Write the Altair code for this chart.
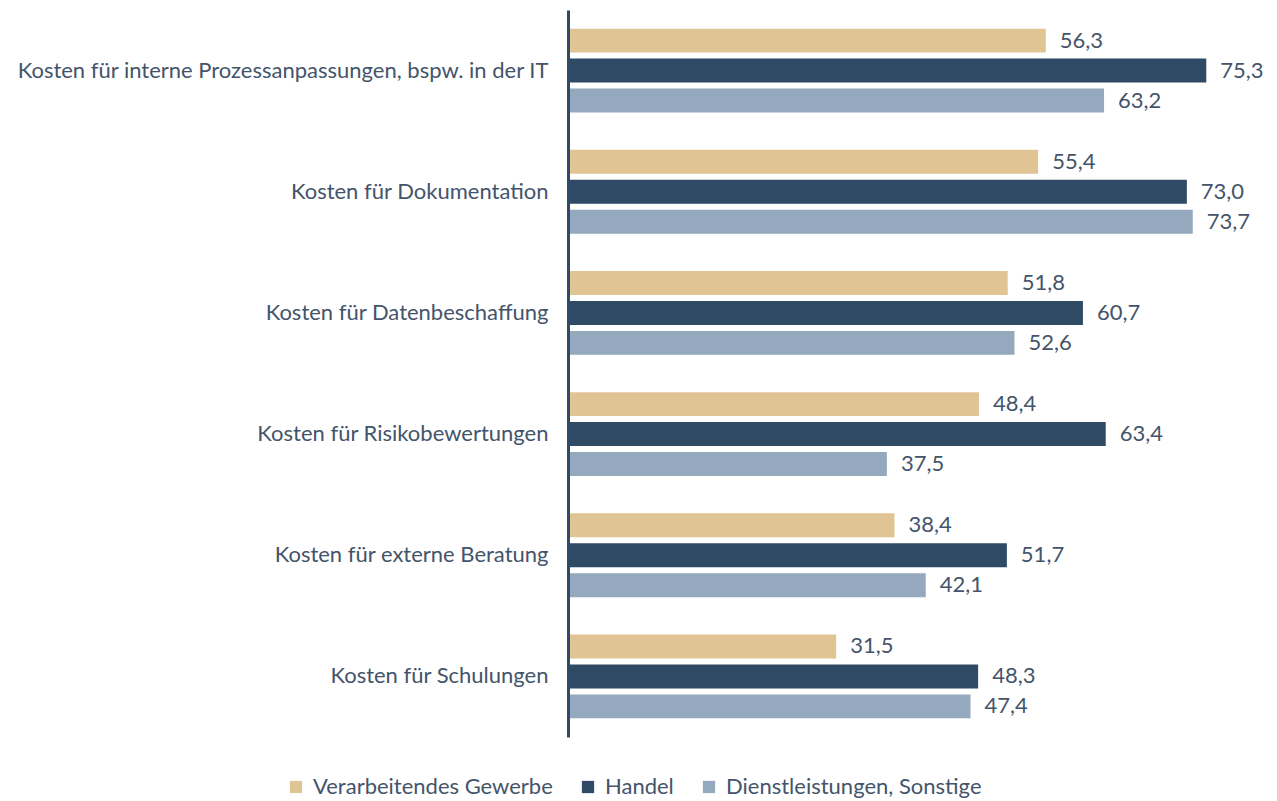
import altair as alt
import pandas as pd

categories = [
    "Kosten für interne Prozessanpassungen, bspw. in der IT",
    "Kosten für Dokumentation",
    "Kosten für Datenbeschaffung",
    "Kosten für Risikobewertungen",
    "Kosten für externe Beratung",
    "Kosten für Schulungen",
]
series = ["Verarbeitendes Gewerbe", "Handel", "Dienstleistungen, Sonstige"]
verarbeitendes = [56.3, 55.4, 51.8, 48.4, 38.4, 31.5]
handel = [75.3, 73.0, 60.7, 63.4, 51.7, 48.3]
dienst = [63.2, 73.7, 52.6, 37.5, 42.1, 47.4]
colors = ["#E0C494", "#2E4A64", "#94A9BD"]

rows = []
for s, vals in zip(series, [verarbeitendes, handel, dienst]):
    for c, v in zip(categories, vals):
        rows.append({"Kategorie": c, "Sektor": s, "Wert": v,
                     "Label": f"{v:.1f}".replace(".", ",")})
df = pd.DataFrame(rows)

FONT = "Lato"
TXT = "#44546A"
FS = 22

y = alt.Y("Kategorie:N", sort=categories,
          scale=alt.Scale(paddingInner=0.258, paddingOuter=0.129),
          axis=alt.Axis(title=None, ticks=False, labelPadding=20, domainWidth=3,
                        domainColor="#2E4A64", offset=2, labelFontSize=FS,
                        labelFont=FONT, labelColor=TXT, labelLimit=600))
yoff = alt.YOffset("Sektor:N", sort=series,
                   scale=alt.Scale(paddingInner=0.2, paddingOuter=0.1))
x = alt.X("Wert:Q", scale=alt.Scale(domain=[0, 80]), axis=None)

bars = alt.Chart(df).mark_bar().encode(
    x=x, y=y, yOffset=yoff,
    color=alt.Color("Sektor:N", sort=series,
                    scale=alt.Scale(domain=series, range=colors),
                    legend=alt.Legend(title=None, orient="none", direction="horizontal",
                                      legendX=-285, legendY=766, symbolType="square",
                                      symbolSize=150, symbolStrokeWidth=0,
                                      labelFont=FONT, labelFontSize=FS, labelColor=TXT,
                                      columnPadding=24, labelOffset=6, labelLimit=400)),
)
labels = alt.Chart(df).mark_text(align="left", baseline="middle", dx=14,
                                 font=FONT, fontSize=FS, color=TXT).encode(
    x=x, y=y, yOffset=yoff, text="Label:N")

chart = (bars + labels).properties(
    width=676, height=727,
    autosize=alt.AutoSizeParams(type="none"),
    padding={"left": 562, "top": 2, "right": 23, "bottom": 64},
).configure_view(stroke=None)

chart.save("out.html", embed_options={"renderer": "svg", "actions": False})
